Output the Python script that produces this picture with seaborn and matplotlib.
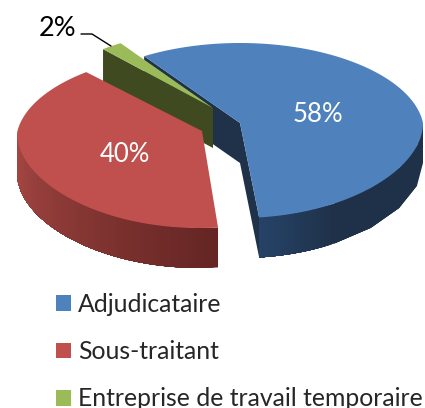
import numpy as np
import seaborn as sns
import matplotlib
matplotlib.use("Agg")
import matplotlib.pyplot as plt
from matplotlib.patches import Patch, Polygon

categories = ["Adjudicataire", "Sous-traitant", "Entreprise de travail temporaire"]
values = [58, 40, 2]
value_labels = ["58%", "40%", "2%"]

sns.set_theme(style="white")
plt.rcParams['font.family'] = ['Lato', 'DejaVu Sans']
palette = sns.color_palette(["#4F81BD", "#C0504D", "#9BBB59"])

W, H = 425, 408
fig = plt.figure(figsize=(W / 100, H / 100), dpi=100)
ax = fig.add_axes([0, 0, 1, 1])
ax.set_xlim(0, W)
ax.set_ylim(H, 0)
ax.axis("off")

# slice geometry (clockwise angle from the back of the pie, px units)
START = -34.8
DEPTH = 40
spans = np.array(values) / sum(values) * 360
starts = START + np.concatenate([[0], np.cumsum(spans)[:-1]])
apex = [(240, 123), (202, 131), (213, 108)]
rim_center = [(240, 123), (199, 133), (217, 110)]
A = [183, 182, 184]


def rim(k, t):
    t = np.radians(np.asarray(t, dtype=float))
    c = np.cos(t)
    s = np.sin(t)
    b = 87.5 - 7.5 * c
    xs = 1 - 0.1 * np.clip(c, 0, None)
    return rim_center[k][0] + A[k] * s * xs, rim_center[k][1] - b * c


def arc(k, n=160):
    t = np.linspace(starts[k], starts[k] + spans[k], n)
    x, y = rim(k, t)
    return np.column_stack([x, y])


def poly(pts, color, z):
    ax.add_patch(Polygon(pts, closed=True, fc=color, ec="none", lw=0, zorder=z))


def top(k, z):
    poly(np.vstack([[apex[k]], arc(k)]), palette[k], z)


def radial(k, theta, color, z):
    x, y = rim(k, theta)
    cx, cy = apex[k]
    poly([(x, y), (cx, cy), (cx, cy + DEPTH), (x, y + DEPTH)], color, z)


def wall(k, t0, t1, c0, c1, z, n=70):
    # overlapping bands, painted in order, so that no seams show
    t = np.linspace(t0, t1, n + 1)
    x, y = rim(k, t)
    c0 = np.array(matplotlib.colors.to_rgb(c0))
    c1 = np.array(matplotlib.colors.to_rgb(c1))
    for i in range(n):
        f = (i + 0.5) / n
        col = c0 + (c1 - c0) * f
        top_edge = np.column_stack([x[i:n + 1], y[i:n + 1]])
        bottom_edge = top_edge[::-1] + [0, DEPTH]
        poly(np.vstack([top_edge, bottom_edge]), col, z + i * 1e-4)


# Adjudicataire
end0 = starts[0] + spans[0]
radial(0, starts[0], "#1F3249", 1)
radial(0, end0, "#1F3249", 1)
wall(0, 90, end0 - 25, "#1F3148", "#1F3148", 1.1, 4)
wall(0, end0 - 25, end0, "#1F3148", "#254368", 1.2, 30)
top(0, 2)
# Entreprise de travail temporaire
radial(2, starts[2], "#3F4A20", 3)
top(2, 4)
# Sous-traitant
wall(1, starts[1], 270, "#632523", "#A94945", 5)
top(1, 6)

# labels
ax.text(318, 114, value_labels[0], color="white", fontsize=18.5, ha="center", va="center", zorder=9)
ax.text(125, 155, value_labels[1], color="white", fontsize=18.5, ha="center", va="center", zorder=9)
ax.text(58, 28, value_labels[2], color="black", fontsize=19.5, ha="center", va="center", zorder=9)
ax.plot([81, 92, 111], [34, 34, 46], color="black", lw=1, zorder=9)

handles = [Patch(fc=palette[i], ec="none", label=categories[i]) for i in range(3)]
ax.legend(handles=handles, loc="upper left", bbox_to_anchor=(56 / W, 1 - 293 / H),
          frameon=False, fontsize=17.8, handlelength=0.6, handleheight=0.6,
          handletextpad=0.28, labelspacing=0.98, borderpad=0, borderaxespad=0)

fig.savefig("out.png", dpi=100)
